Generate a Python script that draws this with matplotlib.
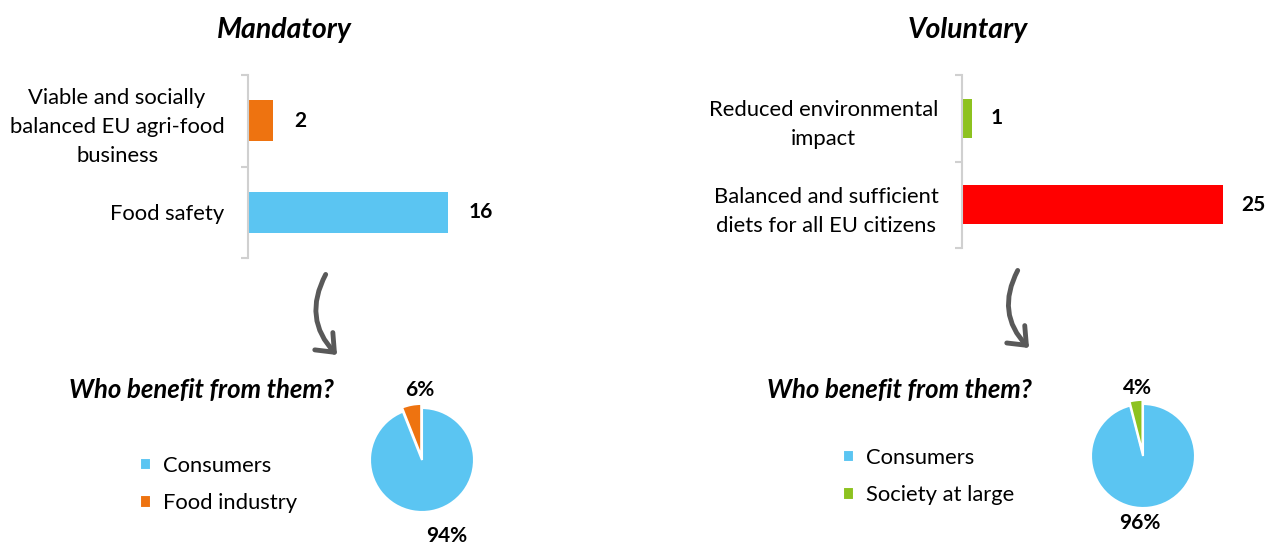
import matplotlib.pyplot as plt
from matplotlib.patches import FancyArrowPatch

# Bar data (top to bottom)
mand_labels = ["Viable and socially\nbalanced EU agri-food\nbusiness", "Food safety"]
mand_values = [2, 16]
mand_colors = ["#EE7310", "#5BC5F2"]

vol_labels = ["Reduced environmental\nimpact", "Balanced and sufficient\ndiets for all EU citizens"]
vol_values = [1, 25]
vol_colors = ["#8DC21F", "#FF0000"]

# Pie data
mand_groups = ["Consumers", "Food industry"]
mand_share = [94, 6]
mand_pie_colors = ["#5BC5F2", "#EE7310"]

vol_groups = ["Consumers", "Society at large"]
vol_share = [96, 4]
vol_pie_colors = ["#5BC5F2", "#8DC21F"]

W, H = 1266, 544
FONT = ["Lato", "DejaVu Sans"]
plt.rcParams["font.family"] = FONT

fig = plt.figure(figsize=(W / 100, H / 100), dpi=100)


def px_axes(x0, y0, x1, y1):
    """Add axes from pixel box (top-left origin)."""
    return fig.add_axes([x0 / W, 1 - y1 / H, (x1 - x0) / W, (y1 - y0) / H])


def fx(x):
    return x / W


def fy(y):
    return 1 - y / H


def bar_panel(box, labels, values, colors, xmax, label_off):
    ax = px_axes(*box)
    pos = list(range(len(values)))
    ax.barh(pos, values, height=0.45, color=colors)
    ax.set_ylim(len(values) - 0.5, -0.5)
    ax.set_xlim(0, xmax)
    for s in ["top", "right", "bottom"]:
        ax.spines[s].set_visible(False)
    ax.spines["left"].set_color("#D0D0D0")
    ax.spines["left"].set_linewidth(1.5)
    ax.set_xticks([])
    ax.set_yticks(pos)
    ax.set_yticklabels(labels, fontsize=15.8, ma="center", linespacing=1.55)
    ax.tick_params(axis="y", which="major", length=0, pad=17)
    ax.set_yticks([p - 0.5 for p in pos] + [len(values) - 0.5], minor=True)
    ax.tick_params(axis="y", which="minor", length=5, width=1.5, color="#D0D0D0")
    for p, v in zip(pos, values):
        ax.annotate(str(v), (v, p), xytext=(label_off, 0), textcoords="offset points",
                    va="center", ha="left", fontsize=15, fontweight="bold")
    return ax


bar_panel((248, 75, 498, 258), mand_labels, mand_values, mand_colors, 20, 15)
bar_panel((962, 75, 1262, 248), vol_labels, vol_values, vol_colors, 28.7, 13)

fig.text(fx(284), fy(30), "Mandatory", ha="center", va="center",
         fontsize=20.5, fontweight="bold", style="italic")
fig.text(fx(968), fy(30), "Voluntary", ha="center", va="center",
         fontsize=20.5, fontweight="bold", style="italic")

# curved arrows
for start, end in [((327, 272), (339, 357)), ((1019, 268), (1031, 350))]:
    arr = FancyArrowPatch((fx(start[0]), fy(start[1])), (fx(end[0]), fy(end[1])),
                          transform=fig.transFigure,
                          connectionstyle="arc3,rad=0.38",
                          arrowstyle="->,head_length=0.55,head_width=0.45",
                          color="#595959", lw=3.5, mutation_scale=20)
    fig.patches.append(arr)

fig.text(fx(201), fy(390), "Who benefit from them?", ha="center", va="center",
         fontsize=18.5, fontweight="bold", style="italic")
fig.text(fx(899), fy(390), "Who benefit from them?", ha="center", va="center",
         fontsize=18.5, fontweight="bold", style="italic")


def pie_panel(center, r, shares, colors, groups, lab_pos, legend_xy):
    cx, cy = center
    ax = px_axes(cx - r, cy - r, cx + r, cy + r)
    wedges, _ = ax.pie(shares, colors=colors, startangle=90, counterclock=False,
                       explode=[0, 0.08], radius=1,
                       wedgeprops={"edgecolor": "white", "linewidth": 1.5})
    for w in wedges:
        w.set_clip_on(False)
    ax.set_xlim(-1, 1)
    ax.set_ylim(-1, 1)
    ax.set_aspect("equal")
    ax.axis("off")
    for v, (lx, ly) in zip(shares, lab_pos):
        ax.text(lx, ly, f"{v}%", ha="center", va="center", fontsize=15,
                fontweight="bold", clip_on=False)
    fig.legend(wedges, groups, loc="upper left",
               bbox_to_anchor=(fx(legend_xy[0]), fy(legend_xy[1])),
               frameon=False, fontsize=15.8, handlelength=0.5, handleheight=0.5,
               handletextpad=0.55, labelspacing=0.78, borderpad=0, borderaxespad=0)
    return ax


pie_panel((422, 460), 52, mand_share, mand_pie_colors, mand_groups,
          [(0.48, -1.46), (-0.04, 1.35)], (140, 456))
pie_panel((1143, 456), 52, vol_share, vol_pie_colors, vol_groups,
          [(-0.06, -1.29), (-0.1, 1.31)], (843, 448))

fig.savefig("out.png", dpi=100)
